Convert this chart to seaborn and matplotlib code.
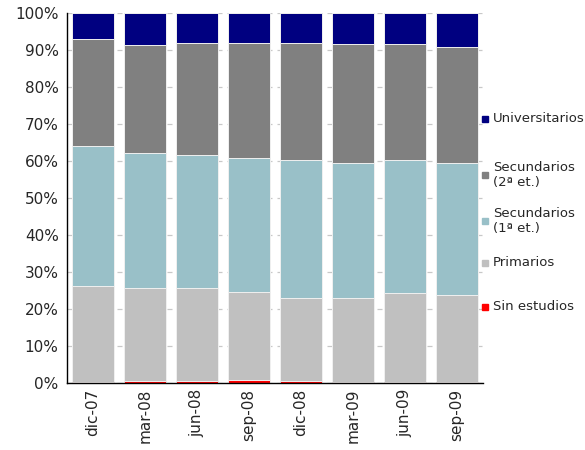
import pandas as pd
import numpy as np
import matplotlib
matplotlib.use('Agg')
import matplotlib.pyplot as plt
import seaborn as sns
from matplotlib.ticker import PercentFormatter, FixedLocator

# Data (% of total)
periodos = ['dic-07', 'mar-08', 'jun-08', 'sep-08', 'dic-08', 'mar-09', 'jun-09', 'sep-09']
sin_estudios = [0.2, 0.6, 0.6, 0.9, 0.6, 0.2, 0.2, 0.2]
primarios = [26.1, 25.0, 25.0, 23.6, 22.4, 22.7, 24.2, 23.5]
secundarios_1 = [37.7, 36.5, 36.0, 36.4, 37.2, 36.6, 35.8, 35.8]
secundarios_2 = [29.0, 29.3, 30.2, 30.9, 31.6, 32.0, 31.5, 31.2]
universitarios = [7.0, 8.6, 8.2, 8.2, 8.2, 8.5, 8.3, 9.3]

series_names = ['Sin estudios', 'Primarios', 'Secundarios\n(1ª et.)', 'Secundarios\n(2ª et.)', 'Universitarios']
colors = ['#FF0000', '#C0C0C0', '#99C0C8', '#808080', '#000080']

df = pd.DataFrame({
    'Sin estudios': sin_estudios,
    'Primarios': primarios,
    'Secundarios\n(1ª et.)': secundarios_1,
    'Secundarios\n(2ª et.)': secundarios_2,
    'Universitarios': universitarios,
}, index=periodos)
cum = df.cumsum(axis=1) / 100.0

sns.set_style('white')
plt.rcParams['font.family'] = ['DejaVu Sans']

fig = plt.figure(figsize=(5.85, 4.5), dpi=100)
ax = fig.add_axes([67 / 585, 1 - 383 / 450, (483 - 67) / 585, (383 - 13) / 450])

# draw cumulative totals from the top layer down so each layer covers the next
for name, color in reversed(list(zip(series_names, colors))):
    sns.barplot(x=periodos, y=cum[name].values, color=color, width=0.8,
                edgecolor='#f0f0f0', linewidth=0.7, errorbar=None, ax=ax,
                saturation=1)

ax.set_ylim(0, 1)
ax.set_xlim(-0.5, len(periodos) - 0.5)
ax.yaxis.set_major_locator(FixedLocator(np.arange(0, 1.01, 0.1)))
ax.yaxis.set_major_formatter(PercentFormatter(1.0, decimals=0))
ax.yaxis.grid(True, linestyle=(0, (4, 4)), color='#c8c8c8', linewidth=0.9)
ax.set_axisbelow(True)

# x ticks at category boundaries, labels centered on the bars
ax.set_xticks(np.arange(-0.5, len(periodos), 1.0))
ax.set_xticklabels([])
ax.set_xticks(np.arange(len(periodos)), minor=True)
ax.set_xticklabels(periodos, minor=True, rotation=90, fontsize=11)
ax.tick_params(axis='x', which='major', direction='out', length=5, width=1, color='#333333')
ax.tick_params(axis='x', which='minor', length=0, pad=4)
ax.tick_params(axis='y', direction='out', length=4, width=1, color='#333333', labelsize=11, pad=2)

for side in ['top', 'right']:
    ax.spines[side].set_visible(False)
for side in ['left', 'bottom']:
    ax.spines[side].set_color('black')
    ax.spines[side].set_linewidth(1)
ax.set_xlabel('')
ax.set_ylabel('')

# legend, placed entry by entry like the original
legend_y = {'Universitarios': 119, 'Secundarios\n(2ª et.)': 175, 'Secundarios\n(1ª et.)': 221,
            'Primarios': 263, 'Sin estudios': 307}
for name, color in zip(series_names, colors):
    y = 1 - legend_y[name] / 450
    fig.lines.append(plt.Line2D([485 / 585], [y], marker='s', markersize=5, color=color,
                                linestyle='none', transform=fig.transFigure))
    fig.text(493 / 585, y, name, fontsize=9.5, va='center', ha='left', linespacing=1.25)

fig.savefig('out.png', dpi=100)
